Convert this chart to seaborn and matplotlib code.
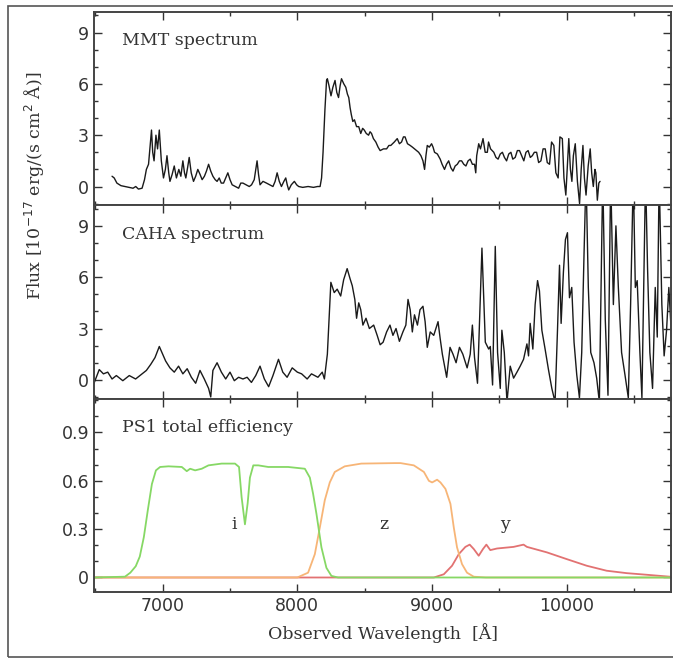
import numpy as np
import pandas as pd
import seaborn as sns
import matplotlib
matplotlib.use("Agg")
import matplotlib.pyplot as plt
from matplotlib.ticker import MultipleLocator, FixedLocator, FixedFormatter
from matplotlib.patches import Rectangle

# ---------------- data ----------------
mmt_wave = [6624, 6640, 6660, 6690, 6720, 6750, 6780, 6800, 6820, 6847, 6865, 6879, 6895, 6905, 6917,
            6926, 6936, 6950, 6962, 6975, 6990, 7006, 7020, 7032, 7045, 7054, 7070, 7086, 7102, 7120,
            7135, 7150, 7162, 7172, 7185, 7197, 7212, 7229, 7245, 7261, 7278, 7293, 7310, 7325, 7341,
            7357, 7373, 7390, 7404, 7420, 7435, 7452, 7468, 7484, 7500, 7516, 7540, 7564, 7580, 7596,
            7620, 7643, 7660, 7680, 7701, 7712, 7723, 7745, 7771, 7795, 7819, 7835, 7850, 7866, 7882,
            7900, 7914, 7925, 7936, 7955, 7978, 7995, 8010, 8040, 8080, 8120, 8150, 8169, 8180, 8191,
            8205, 8217, 8223, 8235, 8250, 8264, 8280, 8293, 8306, 8318, 8328, 8345, 8360, 8372, 8382,
            8392, 8401, 8412, 8424, 8440, 8456, 8471, 8485, 8497, 8512, 8529, 8540, 8551, 8565, 8583,
            8600, 8615, 8640, 8663, 8680, 8694, 8720, 8742, 8758, 8774, 8788, 8800, 8818, 8838, 8855,
            8870, 8885, 8901, 8918, 8933, 8945, 8955, 8965, 8980, 8997, 9008, 9019, 9040, 9061, 9075,
            9093, 9108, 9124, 9140, 9156, 9172, 9188, 9204, 9220, 9236, 9252, 9268, 9284, 9300, 9316,
            9325, 9332, 9347, 9360, 9379, 9395, 9411, 9420, 9435, 9459, 9475, 9491, 9507, 9523, 9538,
            9554, 9570, 9586, 9600, 9618, 9634, 9650, 9666, 9682, 9698, 9714, 9730, 9745, 9760, 9777,
            9792, 9809, 9825, 9841, 9856, 9873, 9888, 9905, 9920, 9937, 9950, 9968, 9980, 9994, 10005,
            10016, 10028, 10039, 10050, 10064, 10080, 10096, 10108, 10121, 10132, 10144, 10160, 10175,
            10186, 10198, 10210, 10217, 10228, 10239, 10248]
mmt_flux = [0.6, 0.5, 0.2, 0.05, 0.0, -0.05, -0.1, 0.0, -0.15, -0.1, 0.4, 1.0, 1.3, 2.2, 3.3,
            2.0, 1.5, 3.0, 2.2, 3.3, 1.5, 0.5, 1.0, 1.8, 0.8, 0.3, 0.7, 1.2, 0.5, 1.0,
            0.6, 1.5, 0.8, 0.5, 1.1, 1.7, 0.8, 0.3, 0.6, 1.0, 0.7, 0.4, 0.6, 0.9, 1.3,
            0.9, 0.6, 0.4, 0.3, 0.5, 0.2, 0.2, 0.5, 0.8, 0.4, 0.1, 0.0, -0.1, 0.2, 0.2,
            0.1, 0.0, 0.1, 0.4, 1.5, 0.7, 0.1, 0.3, 0.2, 0.1, 0.0, 0.3, 0.8, 0.3, 0.0,
            0.3, 0.5, 0.1, -0.2, 0.1, 0.3, 0.1, 0.0, -0.05, 0.0, -0.05, 0.0, 0.0, 0.5, 2.0,
            4.5, 6.2, 6.3, 5.9, 5.3, 5.8, 6.2, 5.5, 5.2, 5.9, 6.3, 6.0, 5.8, 5.4, 5.2,
            4.6, 4.2, 3.8, 3.9, 3.5, 3.5, 3.1, 3.4, 3.3, 3.1, 3.0, 3.2, 3.1, 2.8, 2.6,
            2.3, 2.1, 2.2, 2.2, 2.4, 2.4, 2.6, 2.8, 2.5, 2.6, 2.9, 2.9, 2.5, 2.4, 2.3,
            2.2, 2.1, 2.0, 1.8, 1.5, 1.0, 1.8, 2.4, 2.3, 2.5, 2.3, 2.0, 1.9, 1.6, 1.3,
            1.0, 1.3, 1.5, 1.1, 0.9, 1.2, 1.3, 1.5, 1.5, 1.3, 1.2, 1.5, 1.6, 1.3, 1.3,
            0.8, 1.8, 2.5, 2.2, 2.8, 2.0, 2.0, 2.6, 2.2, 2.0, 1.7, 1.6, 1.9, 2.0, 1.7,
            1.5, 1.9, 2.0, 1.6, 1.7, 2.1, 2.1, 1.8, 1.5, 2.0, 2.1, 1.7, 1.8, 2.0, 2.0,
            1.4, 1.5, 2.2, 2.2, 1.4, 1.3, 2.6, 2.4, 0.8, 0.5, 2.9, 2.8, 0.5, -0.5, 1.2,
            2.8, 1.0, 0.3, 1.8, 2.5, 0.3, -1.0, 1.0, 2.4, 0.5, -0.5, 1.2, 2.2,
            0.8, 0.0, 1.0, 0.8, -0.8, 0.2, 0.3]

caha_wave = [6490, 6529, 6560, 6592, 6624, 6656, 6704, 6752, 6799, 6847, 6879, 6911, 6943, 6975, 7000,
             7022, 7054, 7086, 7118, 7150, 7182, 7213, 7245, 7277, 7309, 7341, 7357, 7373, 7404, 7436,
             7468, 7500, 7532, 7564, 7596, 7627, 7659, 7691, 7723, 7755, 7787, 7819, 7860, 7892, 7924,
             7962, 8000, 8032, 8073, 8105, 8153, 8185, 8201, 8223, 8249, 8274, 8296, 8322, 8344, 8370,
             8392, 8408, 8427, 8440, 8456, 8471, 8487, 8510, 8535, 8567, 8593, 8615, 8637, 8663, 8688,
             8710, 8733, 8758, 8784, 8806, 8822, 8838, 8854, 8870, 8892, 8911, 8933, 8949, 8965, 8987,
             9013, 9045, 9061, 9077, 9109, 9134, 9156, 9179, 9204, 9229, 9261, 9284, 9300, 9316, 9338,
             9371, 9396, 9421, 9433, 9450, 9470, 9487, 9507, 9519, 9537, 9557, 9581, 9606, 9631, 9655,
             9680, 9705, 9717, 9729, 9749, 9766, 9784, 9798, 9816, 9840, 9865, 9890, 9914, 9932, 9947,
             9959, 9976, 9991, 10006, 10021, 10038, 10055, 10075, 10095, 10112, 10129, 10144, 10161, 10179, 10203,
             10223, 10243, 10268, 10287, 10307, 10327, 10347, 10366, 10384, 10408, 10433, 10458, 10475, 10495, 10510,
             10524, 10544, 10559, 10574, 10586, 10601, 10618, 10638, 10658, 10673, 10687, 10707, 10724, 10742, 10759,
             10779]
caha_flux = [-0.2, 0.6, 0.35, 0.45, 0.05, 0.25, -0.05, 0.25, 0.05, 0.35, 0.55, 0.9, 1.3, 1.95, 1.5,
             1.1, 0.7, 0.45, 0.8, 0.35, 0.65, 0.15, -0.2, 0.55, 0.05, -0.5, -1.0, 0.55, 1.0, 0.45,
             0.05, 0.45, -0.05, 0.15, 0.05, 0.15, -0.15, 0.25, 0.8, 0.05, -0.4, 0.25, 1.2, 0.45, 0.15,
             0.7, 0.45, 0.35, 0.05, 0.35, 0.15, 0.45, 0.05, 1.5, 5.7, 5.1, 5.3, 4.9, 5.85, 6.5,
             5.9, 5.5, 4.7, 3.6, 4.5, 4.1, 3.2, 3.6, 3.0, 3.2, 2.6, 2.05, 2.2, 2.8, 3.2,
             2.6, 3.0, 2.25, 2.8, 3.2, 4.7, 4.1, 2.8, 3.8, 3.2, 4.1, 4.3, 3.4, 1.9, 2.8,
             2.6, 3.4, 2.4, 1.5, 0.15, 1.9, 1.5, 1.0, 1.9, 1.5, 0.7, 1.5, 3.2, 1.3, -0.2,
             7.7, 2.2, 1.8, 1.95, -0.3, 7.8, 1.6, -0.5, 2.9, 1.6, -1.3, 0.8, 0.1, 0.45, 0.8,
             1.2, 2.1, 1.4, 3.3, 1.8, 4.4, 5.8, 5.2, 2.9, 1.8, 0.6, -0.5, -1.3, 2.9, 6.7,
             3.3, 6.3, 8.2, 8.6, 4.8, 5.4, 2.2, 0.3, -1.05, 1.6, 7.3, 12.0, 5.4, 1.6, 1.0,
             0.1, -1.3, 12.0, 3.5, -0.9, 12.0, 4.4, 9.0, 5.4, 1.6, 0.3, -1.05, 4.4, 12.0, 5.4,
             5.8, 1.6, -1.05, 6.3, 12.0, 6.5, 1.6, -0.5, 5.4, 2.5, 12.0, 4.4, 1.4, 2.9, 5.4,
             2.5]

i_wave = [6490, 6720, 6760, 6800, 6830, 6860, 6890, 6920, 6950, 6981, 7043, 7142, 7179, 7204, 7241,
          7290, 7340, 7438, 7537, 7567, 7586, 7611, 7631, 7648, 7673, 7710, 7784, 7932, 8056, 8093,
          8117, 8142, 8179, 8216, 8253, 8302, 10780]
i_eff = [0.0, 0.005, 0.03, 0.07, 0.13, 0.25, 0.42, 0.58, 0.665, 0.686, 0.69, 0.686, 0.66, 0.675, 0.665,
         0.675, 0.696, 0.707, 0.707, 0.686, 0.50, 0.33, 0.46, 0.62, 0.696, 0.696, 0.686, 0.686, 0.675, 0.62,
         0.52, 0.395, 0.187, 0.06, 0.01, 0.0, 0.0]

z_wave = [6490, 8000, 8080, 8130, 8167, 8204, 8241, 8278, 8352, 8475, 8722, 8767, 8865, 8940, 8977,
          9001, 9038, 9063, 9100, 9137, 9162, 9186, 9223, 9260, 9310, 9400, 10780]
z_eff = [0.0, 0.0, 0.03, 0.145, 0.31, 0.48, 0.59, 0.655, 0.69, 0.707, 0.71, 0.71, 0.696, 0.655, 0.60,
         0.59, 0.607, 0.59, 0.55, 0.457, 0.31, 0.187, 0.083, 0.03, 0.005, 0.0, 0.0]

y_wave = [6490, 9014, 9088, 9149, 9199, 9248, 9280, 9310, 9347, 9379, 9404, 9433, 9483, 9606, 9680,
          9705, 9853, 10001, 10149, 10297, 10446, 10594, 10780]
y_eff = [0.0, 0.0, 0.02, 0.073, 0.145, 0.19, 0.204, 0.177, 0.135, 0.177, 0.204, 0.17, 0.18, 0.19, 0.204,
         0.19, 0.156, 0.114, 0.073, 0.042, 0.027, 0.017, 0.004]

band_names = ["i", "z", "y"]
band_label_x = [7530, 8640, 9545]
band_label_y = [0.33, 0.33, 0.33]

panel_titles = ["MMT spectrum", "CAHA spectrum", "PS1 total efficiency"]
x_ticks = [7000, 8000, 9000, 10000]
flux_ticks = [0, 3, 6, 9]
eff_ticks = [0, 0.3, 0.6, 0.9]
eff_tick_labels = ["0", "0.3", "0.6", "0.9"]

# ---------------- plotting ----------------
sns.set_theme(style="ticks")
plt.rcParams["font.family"] = ["DejaVu Sans"]

fig = plt.figure(figsize=(6.73, 6.63), dpi=100)
L, W = 94 / 673, 577 / 673
H = 0.2916
bottoms = [0.6903, 0.3987, 0.1071]
axes = [fig.add_axes([L, b, W, H]) for b in bottoms]

spec_color = "#1a1a1a"
sns.lineplot(x=mmt_wave, y=mmt_flux, ax=axes[0], color=spec_color, lw=1.0,
             estimator=None, sort=False)
sns.lineplot(x=caha_wave, y=caha_flux, ax=axes[1], color=spec_color, lw=1.0,
             estimator=None, sort=False)

eff_df = pd.concat([
    pd.DataFrame({"wave": y_wave, "eff": y_eff, "band": "y"}),
    pd.DataFrame({"wave": z_wave, "eff": z_eff, "band": "z"}),
    pd.DataFrame({"wave": i_wave, "eff": i_eff, "band": "i"}),
])
sns.lineplot(data=eff_df, x="wave", y="eff", hue="band",
             palette={"i": "#86d865", "z": "#f7b577", "y": "#e27272"},
             ax=axes[2], lw=1.3, estimator=None, sort=False, legend=False)

serif = ["DejaVu Serif"]
for ax, title in zip(axes, panel_titles):
    ax.set_xlim(6490, 10775)
    ax.xaxis.set_major_locator(FixedLocator(x_ticks))
    ax.xaxis.set_minor_locator(MultipleLocator(500))
    ax.tick_params(which="both", direction="in", top=True, right=True,
                   colors="#333333", labelcolor="#333333", labelsize=12.5, width=1.0)
    ax.tick_params(which="major", length=6)
    ax.tick_params(which="minor", length=3)
    for s in ax.spines.values():
        s.set_linewidth(1.4)
        s.set_color("#444444")
    ax.set_xlabel("")
    ax.set_ylabel("")
    ax.text(0.049, 0.85, title, transform=ax.transAxes, fontsize=12.5,
            family=serif, color="#333333", va="center", ha="left")

for ax in axes[:2]:
    ax.set_ylim(-1.1, 10.2)
    ax.yaxis.set_major_locator(FixedLocator(flux_ticks))
    ax.yaxis.set_minor_locator(MultipleLocator(1))
    ax.tick_params(labelbottom=False)

axes[2].set_ylim(-0.09, 1.11)
axes[2].yaxis.set_major_locator(FixedLocator(eff_ticks))
axes[2].yaxis.set_major_formatter(FixedFormatter(eff_tick_labels))
axes[2].yaxis.set_minor_locator(MultipleLocator(0.1))
for name, bx, by in zip(band_names, band_label_x, band_label_y):
    axes[2].text(bx, by, name, fontsize=12.5, family=serif, color="#333333",
                 ha="center", va="center")

axes[2].set_xlabel("Observed Wavelength  [Å]", fontsize=12.5, family=serif,
                   color="#333333", labelpad=6)
fig.text(0.052, 0.72, "Flux [10$^{-17}$ erg/(s cm$^2$ Å)]", rotation=90,
         fontsize=12.5, family=serif, color="#333333", ha="center", va="center")

fig.patches.append(Rectangle((8 / 673, 6 / 663), 1.0, 1 - 12 / 663,
                             transform=fig.transFigure, fill=False,
                             edgecolor="#555555", lw=1.2))

fig.savefig("out.png", dpi=100)
